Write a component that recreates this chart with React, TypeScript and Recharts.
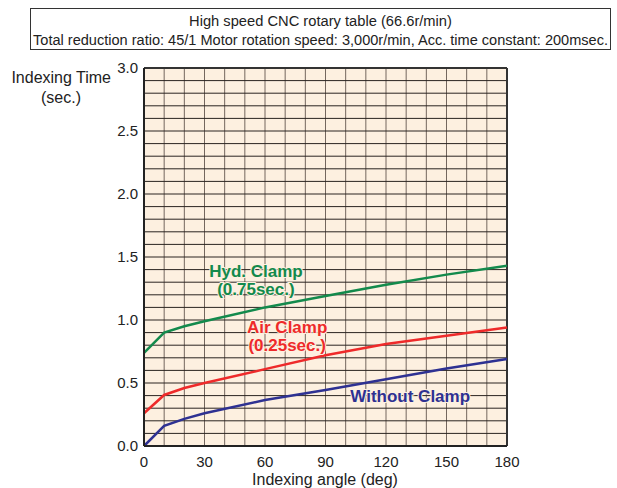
import { LineChart, Line, XAxis, YAxis, CartesianGrid, ReferenceLine, ReferenceDot } from 'recharts'

// indexing angle (deg)
const angles = [0, 10, 20, 30, 60, 90, 120, 150, 180]
// indexing time (sec.)
const hydClamp = [0.74, 0.9, 0.95, 0.99, 1.1, 1.19, 1.28, 1.36, 1.43]
const airClamp = [0.26, 0.405, 0.46, 0.5, 0.61, 0.72, 0.81, 0.875, 0.94]
const withoutClamp = [0, 0.16, 0.215, 0.26, 0.365, 0.445, 0.53, 0.615, 0.69]

const xTicks = [0, 30, 60, 90, 120, 150, 180]
const yTicks = [0, 0.5, 1, 1.5, 2, 2.5, 3]
const xGrid = [10, 20, 30, 40, 50, 60, 70, 80, 90, 100, 110, 120, 130, 140, 150, 160, 170]
const yGrid = [0.1, 0.2, 0.3, 0.4, 0.5, 0.6, 0.7, 0.8, 0.9, 1.0, 1.1, 1.2, 1.3, 1.4, 1.5, 1.6, 1.7, 1.8, 1.9, 2.0, 2.1, 2.2, 2.3, 2.4, 2.5, 2.6, 2.7, 2.8, 2.9]

const annotations = [
  { x: 55.5, y: 1.32, lines: ['Hyd. Clamp', '(0.75sec.)'], color: '#138a4c' },
  { x: 71, y: 0.87, lines: ['Air Clamp', '(0.25sec.)'], color: '#ee2a2a' },
  { x: 132, y: 0.4, lines: ['Without Clamp'], color: '#2e3192' },
]

const data = angles.map((a, i) => ({
  angle: a,
  hyd: hydClamp[i],
  air: airClamp[i],
  without: withoutClamp[i],
}))

const font = '"Liberation Sans", Arial, sans-serif'
const paper = '#fdf0e0'

function NoteLabel({ viewBox, lines, color }: any) {
  const cx = viewBox.x + viewBox.width / 2
  const cy = viewBox.y + viewBox.height / 2
  const top = cy - ((lines.length - 1) * 18) / 2
  return (
    <text
      x={cx}
      textAnchor="middle"
      fontFamily={font}
      fontSize={17}
      fontWeight="bold"
      fill={color}
      stroke={paper}
      strokeWidth={2}
      paintOrder="stroke"
    >
      {lines.map((l: string, i: number) => (
        <tspan key={l} x={cx} y={top + i * 18 + 6}>{l}</tspan>
      ))}
    </text>
  )
}

export default function App() {
  return (
    <div style={{ position: 'absolute', left: 0, top: 0, width: 617, height: 488, background: '#fff', fontFamily: font }}>
      <div
        style={{
          position: 'absolute', left: 30, top: 8, width: 579, height: 40,
          border: '1.5px solid #333', textAlign: 'center', color: '#222',
        }}
      >
        <div style={{ fontSize: 14.7, lineHeight: '20px', marginTop: 2 }}>High speed CNC rotary table (66.6r/min)</div>
        <div style={{ fontSize: 14.55, lineHeight: '18px', whiteSpace: 'nowrap' }}>
          Total reduction ratio: 45/1 Motor rotation speed: 3,000r/min, Acc. time constant: 200msec.
        </div>
      </div>
      <LineChart width={617} height={488} data={data} margin={{ top: 68, right: 110, left: 0, bottom: 0 }}>
        <CartesianGrid horizontal={false} vertical={false} fill={paper} />
        {xGrid.map(v => (
          <ReferenceLine key={'x' + v} x={v} stroke="#74675e" strokeWidth={1} />
        ))}
        {yGrid.map(v => (
          <ReferenceLine key={'y' + v} y={v} stroke="#2a2420" strokeWidth={1} />
        ))}
        <ReferenceLine y={3} stroke="#333" strokeWidth={2} />
        <ReferenceLine x={180} stroke="#333" strokeWidth={2} />
        <XAxis
          dataKey="angle"
          type="number"
          domain={[0, 180]}
          ticks={xTicks}
          height={42}
          tickLine={false}
          tickSize={0}
          tickMargin={10}
          axisLine={{ stroke: '#222', strokeWidth: 2 }}
          tick={{ fill: '#222', fontSize: 15, fontFamily: font }}
          label={{
            content: () => (
              <text x={325} y={485} textAnchor="middle" fontFamily={font} fontSize={16} fill="#222">
                Indexing angle (deg)
              </text>
            ),
          }}
        />
        <YAxis
          type="number"
          domain={[0, 3]}
          ticks={yTicks}
          width={144}
          tickLine={false}
          tickSize={0}
          tickMargin={6}
          axisLine={{ stroke: '#222', strokeWidth: 2 }}
          tick={{ fill: '#222', fontSize: 15, fontFamily: font }}
          tickFormatter={(v: number) => v.toFixed(1)}
          label={{
            content: () => (
              <text fontFamily={font} fontSize={16} fill="#222">
                <tspan x={111} y={83} textAnchor="end">Indexing Time</tspan>
                <tspan x={61} y={103} textAnchor="middle">(sec.)</tspan>
              </text>
            ),
          }}
        />
        <Line type="linear" dataKey="hyd" stroke="#138a4c" strokeWidth={2.5} dot={false} isAnimationActive={false} />
        <Line type="linear" dataKey="air" stroke="#ee2a2a" strokeWidth={2.5} dot={false} isAnimationActive={false} />
        <Line type="linear" dataKey="without" stroke="#2e3192" strokeWidth={2.5} dot={false} isAnimationActive={false} />
        {annotations.map(a => (
          <ReferenceDot
            key={a.lines[0]}
            x={a.x}
            y={a.y}
            r={0}
            fill="none"
            stroke="none"
            label={{ content: (p: any) => <NoteLabel viewBox={p.viewBox} lines={a.lines} color={a.color} /> }}
          />
        ))}
      </LineChart>
    </div>
  )
}
